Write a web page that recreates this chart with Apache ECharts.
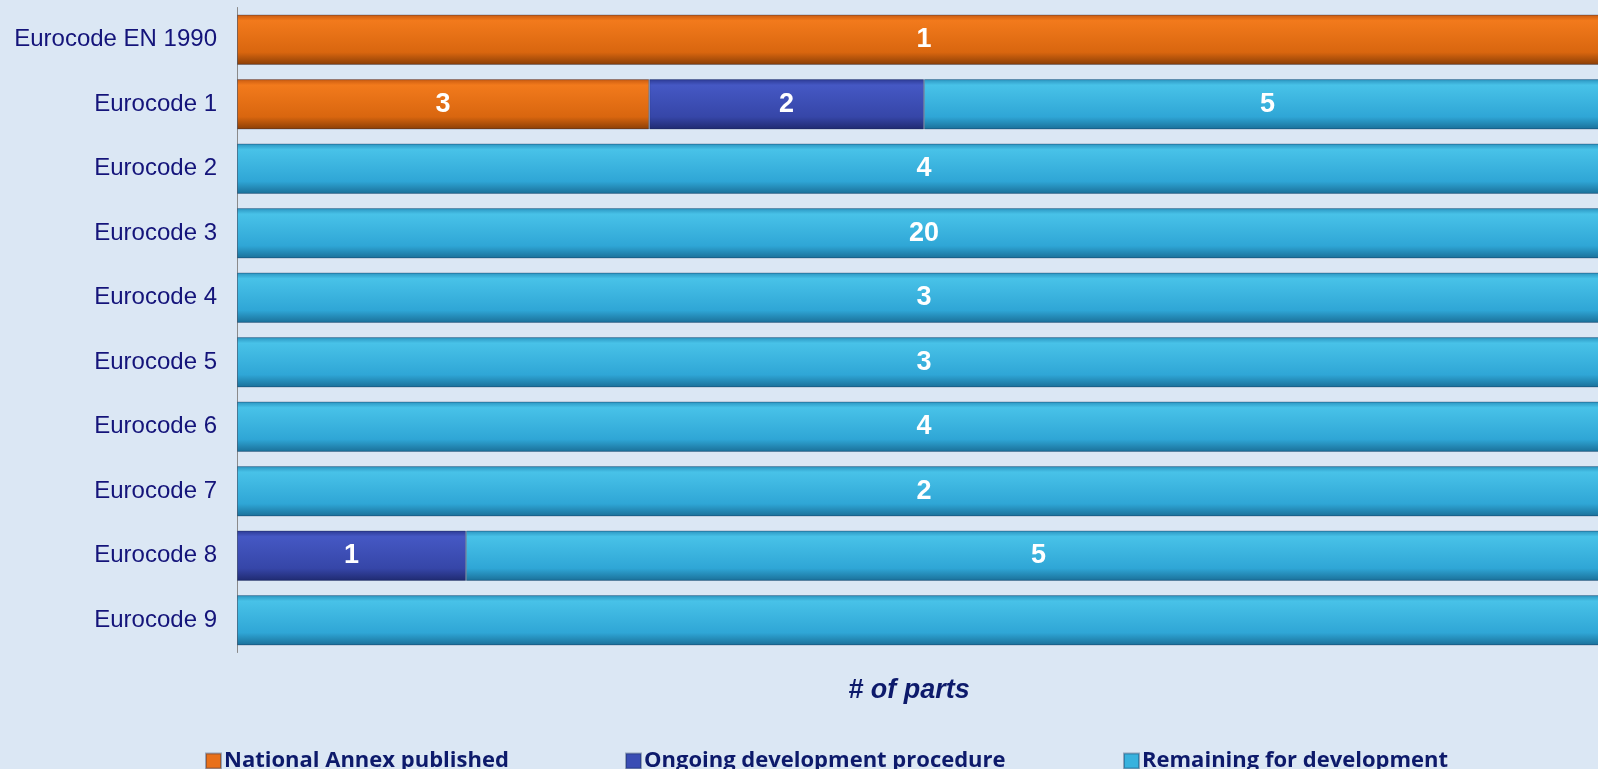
<!DOCTYPE html>
<html><head><meta charset="utf-8">
<script src="https://cdn.jsdelivr.net/npm/echarts@6/dist/echarts.min.js"></script>
<style>html,body{margin:0;padding:0;background:#dbe7f4;overflow:hidden;width:1598px;height:769px;}#c{width:1611px;height:769px;}</style>
</head><body><div id="c"></div>
<script>
const categories = ['Eurocode EN 1990','Eurocode 1','Eurocode 2','Eurocode 3','Eurocode 4','Eurocode 5','Eurocode 6','Eurocode 7','Eurocode 8','Eurocode 9'];
const seriesNames = ['National Annex published','Ongoing development procedure','Remaining for development'];
const published = [1,3,0,0,0,0,0,0,0,0];
const ongoing   = [0,2,0,0,0,0,0,0,1,0];
const remaining = [0,5,4,20,3,3,4,2,5,1];
const remainingLabelShown = [true,true,true,true,true,true,true,true,true,false];

const totals = categories.map((_, i) => published[i] + ongoing[i] + remaining[i]);
function pct(arr, showArr){
  return arr.map((v,i)=>{
    if(!v) return null;
    const item = {value: v/totals[i]*100, raw: v};
    if(showArr && !showArr[i]) item.label = {show:false};
    return item;
  });
}
function grad(c1,c2,c3,c4){
  return new echarts.graphic.LinearGradient(0,0,0,1,[
    {offset:0,color:c1},{offset:0.12,color:c2},{offset:0.75,color:c3},{offset:1,color:c4}]);
}
const colors = [
  grad('#c85a10','#f27a1c','#d9660f','#8a3e06'),
  grad('#2c3a94','#4558c4','#3646a8','#1f2a70'),
  grad('#2a93bf','#48c2e8','#2fa6d6','#1a6f98')
];
const legendColors = ['#e8701a','#3a4db4','#38b2de'];
const label = {show:true, position:'inside', color:'#ffffff', fontFamily:'Liberation Sans, Arial, sans-serif', fontWeight:'bold', fontSize:27, formatter: p => p.data.raw};
const datas = [pct(published), pct(ongoing), pct(remaining, remainingLabelShown)];
const series = seriesNames.map((n,k)=>({
  name:n, type:'bar', stack:'all', barCategoryGap:'22%',
  data: datas[k], label: label,
  itemStyle:{color: colors[k], borderColor:'rgba(20,40,80,0.35)', borderWidth:1},
  emphasis:{disabled:true}
}));
const legendLefts = [200, 620, 1118];
const chart = echarts.init(document.getElementById('c'));
chart.setOption({
  backgroundColor:'#dbe7f4',
  animation:false,
  grid:{left:237, right:0, top:7.5, bottom:116.5},
  legend: seriesNames.map((n,k)=>({
    data:[{name:n, itemStyle:{color:legendColors[k]}}],
    left: legendLefts[k], top: 745, itemWidth:15, itemHeight:15, icon:'rect', itemGap:4,
    textStyle:{color:'#0d1a6b', fontFamily:'Open Sans, sans-serif', fontWeight:'bold', fontSize:22, padding:[0,0,0,-2]}
  })),
  xAxis:{type:'value', min:0, max:100, axisLabel:{show:false}, splitLine:{show:false}, axisLine:{show:false}, axisTick:{show:false},
    name:'# of parts', nameLocation:'middle', nameGap:25,
    nameTextStyle:{color:'#0d1a6b', fontFamily:'Liberation Sans, Arial, sans-serif', fontWeight:'bold', fontStyle:'italic', fontSize:27, padding:[0,30,0,0]}},
  yAxis:{type:'category', data:categories, inverse:true,
    axisLine:{show:true, lineStyle:{color:'#8a8a8a', width:1}}, axisTick:{show:false},
    axisLabel:{color:'#14147a', fontFamily:'Liberation Sans, Arial, sans-serif', fontSize:24, margin:20}},
  series: series
});
</script></body></html>
